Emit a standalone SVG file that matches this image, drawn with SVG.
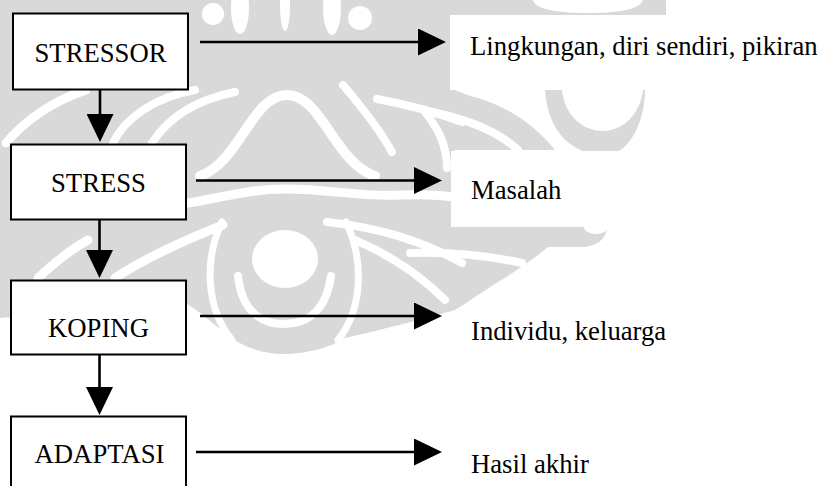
<svg xmlns="http://www.w3.org/2000/svg" width="820" height="486" viewBox="0 0 820 486">
  <style>
    .wm { fill: #d9d9d9; }
    .wh { fill: #ffffff; }
    .ws { fill: none; stroke: #ffffff; stroke-linecap: round; }
    .box { fill: #ffffff; stroke: #000000; stroke-width: 2; }
    .lbl-bg { fill: #ffffff; }
    .edge { fill: none; stroke: #000000; stroke-width: 2.6; }
    .t { font-family: "Liberation Serif", "Times New Roman", serif; font-size: 26.7px; fill: #000000; }
    .tc { text-anchor: middle; }
  </style>
  <defs>
    <marker id="head" viewBox="0 0 28 27" refX="0" refY="13.5" markerWidth="28" markerHeight="27" markerUnits="userSpaceOnUse" orient="auto">
      <path d="M0,0 L28,13.5 L0,27 Z" fill="#000000"/>
    </marker>
  </defs>

  <rect x="0" y="0" width="820" height="486" fill="#ffffff"/>

  <!-- background emblem, light grey -->
  <g id="watermark">
    <path class="wm" d="M0,0 H666 V16 H455 V227 H607 C606,240 596,247 580,247 L548,247 C535,258 518,270 498,282 C482,292 468,302 455,310 C420,320 380,330 345,338 C330,348 305,354 284,354 C262,354 245,347 231,338 C215,325 200,312 187,304 L0,318 Z"/>
    <path class="wm" d="M455,90 L470,96 C505,104 535,125 555,150 L455,150 Z"/>
    <path class="wm" d="M545,90 C548,135 575,155 605,155 C630,155 645,120 645,90 Z"/>
    <path class="wh" d="M562,90 C565,118 585,131 603,131 C622,131 640,115 643,90 Z"/>
    <path class="wh" d="M533,0 C535,10 560,13 588,13 C615,13 640,10 643,0 Z"/>
    <ellipse class="wh" cx="596" cy="227" rx="12" ry="7"/>

    <!-- top row: rings and slots -->
    <circle class="wh" cx="213" cy="14" r="11"/>
    <ellipse class="wh" cx="240" cy="8" rx="9" ry="26"/>
    <ellipse class="wh" cx="285" cy="6" rx="5" ry="25"/>
    <ellipse class="wh" cx="332" cy="8" rx="9" ry="27"/>
    <circle class="wh" cx="360" cy="18" r="12"/>

    <!-- sweeping strokes -->
    <path class="ws" stroke-width="9" d="M6,143 C25,120 55,100 86,90"/>
    <path class="ws" stroke-width="8" d="M113,143 C125,118 155,97 195,90"/>
    <path class="ws" stroke-width="8" d="M152,143 C168,118 195,100 235,92"/>
    <path class="ws" stroke-width="10" d="M200,176 C240,162 252,95 287,95 C322,95 334,162 375,176"/>
    <path class="ws" stroke-width="9" d="M188,203 C225,197 250,189 285,189 C330,189 360,197 400,195 C430,194 448,196 460,198"/>
    <path class="ws" stroke-width="8" d="M343,85 C360,105 380,130 392,152"/>
    <path class="ws" stroke-width="8" d="M377,99 C405,104 435,112 462,122"/>
    <path class="ws" stroke-width="8" d="M425,112 C440,130 447,150 447,168"/>
    <path class="ws" stroke-width="8" d="M432,112 C470,120 500,133 518,150"/>
    <path class="ws" stroke-width="9" d="M38,278 C55,262 70,250 88,240"/>
    <path class="ws" stroke-width="9" d="M115,278 C150,255 190,238 223,225"/>
    <path class="ws" stroke-width="7" d="M222,222 C203,262 207,310 232,340"/>
    <path class="ws" stroke-width="7" d="M346,222 C365,262 362,310 338,340"/>
    <path class="ws" stroke-width="8" d="M238,276 C242,312 262,324 284,324 C306,324 326,312 331,276"/>
    <ellipse class="wh" cx="285" cy="259" rx="33" ry="29"/>
    <path class="ws" stroke-width="8" d="M327,222 C380,228 420,240 462,263"/>
    <path class="ws" stroke-width="8" d="M355,240 C390,255 420,275 445,300"/>
    <path class="ws" stroke-width="8" d="M410,253 C450,252 490,256 522,263"/>
  </g>

  <!-- label backgrounds -->
  <rect class="lbl-bg" x="450" y="15" width="370" height="75"/>
  <rect class="lbl-bg" x="451" y="151" width="369" height="76"/>

  <g id="connectors">
    <line class="edge" x1="100" y1="89" x2="100" y2="114" marker-end="url(#head)"/>
    <line class="edge" x1="99.5" y1="219" x2="99.5" y2="250" marker-end="url(#head)"/>
    <line class="edge" x1="99.5" y1="354" x2="99.5" y2="387" marker-end="url(#head)"/>
    <line class="edge" x1="200" y1="42" x2="418" y2="42" marker-end="url(#head)"/>
    <line class="edge" x1="196" y1="180.5" x2="414" y2="180.5" marker-end="url(#head)"/>
    <line class="edge" x1="200" y1="316" x2="414" y2="316" marker-end="url(#head)"/>
    <line class="edge" x1="196" y1="452" x2="414" y2="452" marker-end="url(#head)"/>
  </g>

  <g id="node-stressor">
    <rect class="box" x="13" y="13.5" width="175" height="76"/>
    <text class="t tc" x="100.5" y="62">STRESSOR</text>
  </g>
  <g id="node-stress">
    <rect class="box" x="11" y="144.5" width="175" height="75"/>
    <text class="t tc" x="98.5" y="192">STRESS</text>
  </g>
  <g id="node-koping">
    <rect class="box" x="11" y="280.5" width="175" height="74"/>
    <text class="t tc" x="98.5" y="337">KOPING</text>
  </g>
  <g id="node-adaptasi">
    <rect class="box" x="11" y="416.5" width="175" height="80"/>
    <text class="t tc" x="99.5" y="463">ADAPTASI</text>
  </g>

  <g id="label-stressor">
    <text class="t" x="470" y="55">Lingkungan, diri sendiri, pikiran</text>
  </g>
  <g id="label-stress">
    <text class="t" x="471" y="199">Masalah</text>
  </g>
  <g id="label-koping">
    <text class="t" x="471" y="340">Individu, keluarga</text>
  </g>
  <g id="label-adaptasi">
    <text class="t" x="471" y="473">Hasil akhir</text>
  </g>
</svg>
